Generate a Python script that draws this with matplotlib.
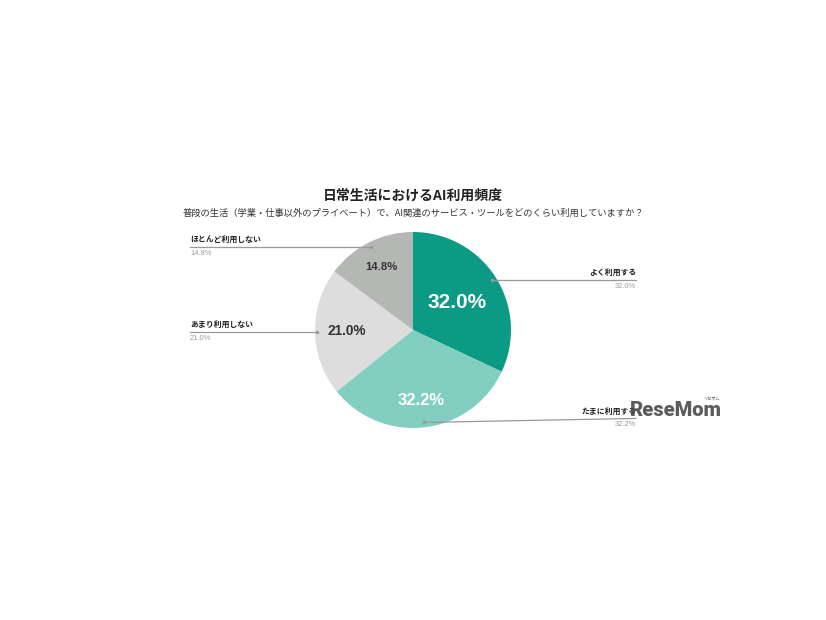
import numpy as np
import matplotlib
matplotlib.use("Agg")
import matplotlib.pyplot as plt

plt.rcParams['font.family'] = ['Noto Sans CJK JP', 'DejaVu Sans']

# データ
categories = ["よく利用する", "たまに利用する", "あまり利用しない", "ほとんど利用しない"]
values = [32.0, 32.2, 21.0, 14.8]
colors = ["#0b9a83", "#82cfc1", "#dcdddc", "#b5b7b5"]
pct_colors = ["white", "white", "#333333", "#333333"]
pct_sizes = [15, 12, 9.8, 8.2]
pct_dist = [0.53, 0.72, 0.68, 0.72]
title = "日常生活におけるAI利用頻度"
subtitle = "普段の生活（学業・仕事以外のプライベート）で、AI関連のサービス・ツールをどのくらい利用していますか？"

W, H = 826, 620
fig = plt.figure(figsize=(W / 100, H / 100), dpi=100)
ax = fig.add_axes([0, 0, 1, 1])

cx, cy, r = 413, H - 330, 98
wedges, _ = ax.pie(values, colors=colors, startangle=90, counterclock=False,
                   center=(cx, cy), radius=r, wedgeprops=dict(linewidth=0))
ax.set_xlim(0, W)
ax.set_ylim(0, H)
ax.set_aspect('equal')
ax.axis('off')

num_font = ['Liberation Sans', 'Noto Sans CJK JP']
line_col = "#9a9a9a"
for i, w in enumerate(wedges):
    ang = np.deg2rad((w.theta1 + w.theta2) / 2)
    # 円内のパーセント
    px = cx + pct_dist[i] * r * np.cos(ang)
    py = cy + pct_dist[i] * r * np.sin(ang)
    ax.text(px, py, f"{values[i]:.1f}%", ha='center', va='center', fontsize=pct_sizes[i],
            fontweight='bold', color=pct_colors[i], family=num_font)
    # 引き出し線とラベル
    rr = 0.95 if i != 2 else 0.98
    sx = cx + rr * r * np.cos(ang)
    sy = cy + rr * r * np.sin(ang)
    if np.cos(ang) > 0:
        ex, ha = 636, 'right'
    else:
        ex, ha = 190, 'left'
    ey = sy + (4 if i == 1 else 0)
    ax.plot([sx, ex], [sy, ey], color=line_col, lw=0.9)
    ax.plot([sx], [sy], marker='o', ms=1.5, color=line_col)
    ax.text(ex, ey + 3, categories[i], ha=ha, va='bottom', fontsize=5.7,
            fontweight='bold', color="#222222")
    ax.text(ex, ey - 3, f"{values[i]:.1f}%", ha=ha, va='top', fontsize=5.4,
            color="#9a9a9a", family=num_font)

# タイトル
ax.text(W / 2, H - 196, title, ha='center', va='center', fontsize=10,
        fontweight='bold', color="#222222")
ax.text(W / 2, H - 213, subtitle, ha='center', va='center', fontsize=6.7,
        color="#333333")

# ロゴ
ax.text(676, H - 410, "ReseMom", ha='center', va='center', fontsize=14.5,
        fontweight='heavy', color="#4a4a4a", family=['Roboto', 'Liberation Sans'],
        alpha=0.9)
ax.text(711, H - 399, "リセマム", ha='center', va='center', fontsize=3,
        color="#4a4a4a")

fig.savefig("out.png", dpi=100)
